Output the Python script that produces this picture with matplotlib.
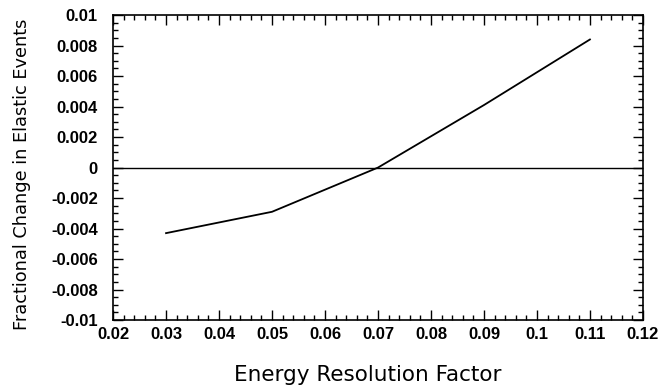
import matplotlib
matplotlib.use("Agg")
from matplotlib import pyplot as plt
from matplotlib.ticker import MultipleLocator, FuncFormatter

# data
resolution = [0.03, 0.05, 0.07, 0.09, 0.11]
frac_change = [-0.0043, -0.0029, 0.0000, 0.0041, 0.0084]

x_ticks = [0.02, 0.03, 0.04, 0.05, 0.06, 0.07, 0.08, 0.09, 0.10, 0.11, 0.12]
y_ticks = [-0.01, -0.008, -0.006, -0.004, -0.002, 0, 0.002, 0.004, 0.006, 0.008, 0.01]


def fmt(v, _pos):
    s = f"{v:.3f}".rstrip("0").rstrip(".")
    if s in ("-0", ""):
        s = "0"
    return s


fig = plt.figure(figsize=(6.69, 3.87), dpi=100)
ax = fig.add_axes([0.169, 0.173, 0.792, 0.788])

ax.plot(resolution, frac_change, color="black", lw=1.3)
ax.axhline(0, color="black", lw=1.0)

ax.set_xlim(0.02, 0.12)
ax.set_ylim(-0.01, 0.01)
ax.set_xticks(x_ticks)
ax.set_yticks(y_ticks)
ax.xaxis.set_minor_locator(MultipleLocator(0.002))
ax.yaxis.set_minor_locator(MultipleLocator(0.0005))
ax.xaxis.set_major_formatter(FuncFormatter(fmt))
ax.yaxis.set_major_formatter(FuncFormatter(fmt))

ax.tick_params(which="both", direction="in", top=True, right=True,
               labeltop=False, labelright=False, width=1.0)
ax.tick_params(which="major", length=7)
ax.tick_params(which="minor", length=3.5)
ax.tick_params(axis="x", which="major", pad=5)
ax.tick_params(axis="y", which="major", pad=11)
for lab in ax.get_xticklabels() + ax.get_yticklabels():
    lab.set_fontweight("bold")
    lab.set_fontsize(12)
    lab.set_family("Liberation Sans")

for sp in ax.spines.values():
    sp.set_linewidth(1.2)

ax.set_xlabel("Energy Resolution Factor", fontsize=15.5)
ax.set_ylabel("Fractional Change in Elastic Events", fontsize=12.8)
ax.xaxis.set_label_coords(0.481, -0.147)
ax.yaxis.set_label_coords(-0.155, 0.479)

fig.savefig("out.png", dpi=100)
